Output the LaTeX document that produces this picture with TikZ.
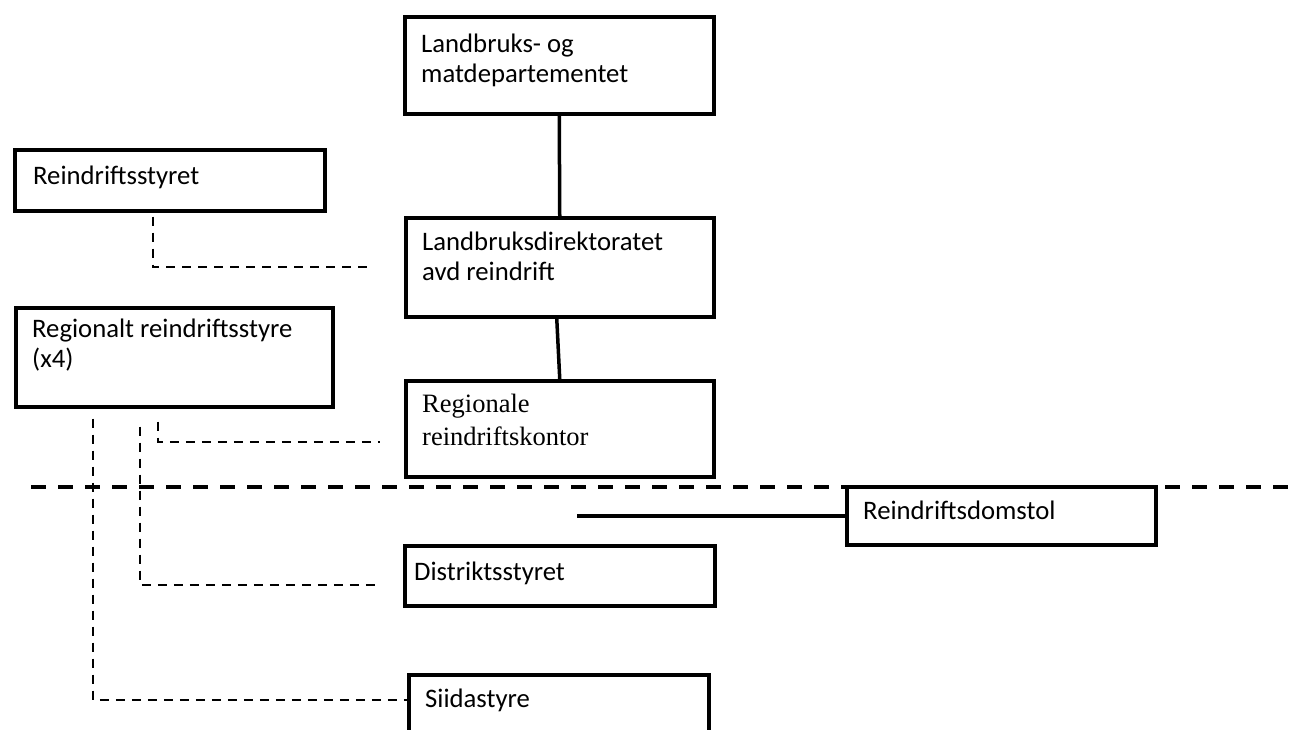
\documentclass[tikz,border=0pt]{standalone}
\usepackage{fontspec}
\setmainfont{Carlito}
\newfontfamily\timesface{Liberation Serif}
\usetikzlibrary{calc}

\begin{document}
\begin{tikzpicture}[
    x=1pt,y=-1pt,
    font=\fontsize{26.7}{30}\selectfont,
    box/.style={draw=black,line width=3.5pt,anchor=north west,inner sep=0pt},
    txt/.style={anchor=base west,align=left,inner sep=0pt,xshift=18pt,yshift=#1},
    txt/.default=-34pt,
    conn/.style={line width=3.5pt},
    link/.style={line width=2.4pt,dash pattern=on 9pt off 7pt},
    divider/.style={line width=3.5pt,dash pattern=on 15pt off 12pt}
  ]
    \useasboundingbox (0,0) rectangle (1293,729);

    \node[box,minimum width=309pt,minimum height=97pt,label={[txt=-67pt]north west:{Landbruks- og\\matdepartementet}}] (ldep) at (403,15) {};
    \node[box,minimum width=310pt,minimum height=61pt,label={[txt=-36pt,xshift=2pt]north west:Reindriftsstyret}] (rstyret) at (13,148) {};
    \node[box,minimum width=308pt,minimum height=99pt,label={[txt=-64pt]north west:{Landbruksdirektoratet\\avd reindrift}}] (ldir) at (404,216) {};
    \node[box,minimum width=317pt,minimum height=99pt,label={[txt=-61pt]north west:{Regionalt reindriftsstyre\\(x4)}}] (regstyre) at (14,306) {};
    \node[box,minimum width=308pt,minimum height=96pt,label={[txt=-66pt,font=\timesface\fontsize{26.5}{33}\selectfont]north west:{Regionale\\reindriftskontor}}] (regkontor) at (404,379) {};
    \node[box,minimum width=309pt,minimum height=58pt,label={[txt]north west:Reindriftsdomstol}] (domstol) at (845,485) {};
    \node[box,minimum width=310pt,minimum height=60pt,label={[txt=-36pt,xshift=-7pt]north west:Distriktsstyret}] (distrikt) at (403,544) {};
    \node[box,minimum width=300pt,minimum height=70pt,label={[txt]north west:Siidastyre}] (siida) at (407,673) {};

    \coordinate (sepL) at (31,487);
    \coordinate (sepR) at (1293,487);
    \coordinate (domcut) at (577,516);

    \draw[conn] (ldep.south) -- (ldir.north);
    \draw[conn] ([xshift=-3pt]ldir.south) -- (regkontor.north);
    \draw[conn] (domcut) -- (domcut -| domstol.west);

    \draw[link] ([xshift=140pt,yshift=-4pt]rstyret.south west) |- ([xshift=-30pt]ldir.west);
    \draw[link] ([xshift=144pt,yshift=-13pt]regstyre.south west) |- ([xshift=-24pt,yshift=-13pt]regkontor.west);
    \draw[link] ([xshift=126pt,yshift=-18pt]regstyre.south west) |- ([xshift=-28pt,yshift=-9pt]distrikt.west);
    \draw[link] ([xshift=79pt,yshift=-10pt]regstyre.south west) |- ([yshift=10pt]siida.west);

    \draw[divider] (sepL) -- (sepR);
  \end{tikzpicture}
\end{document}
